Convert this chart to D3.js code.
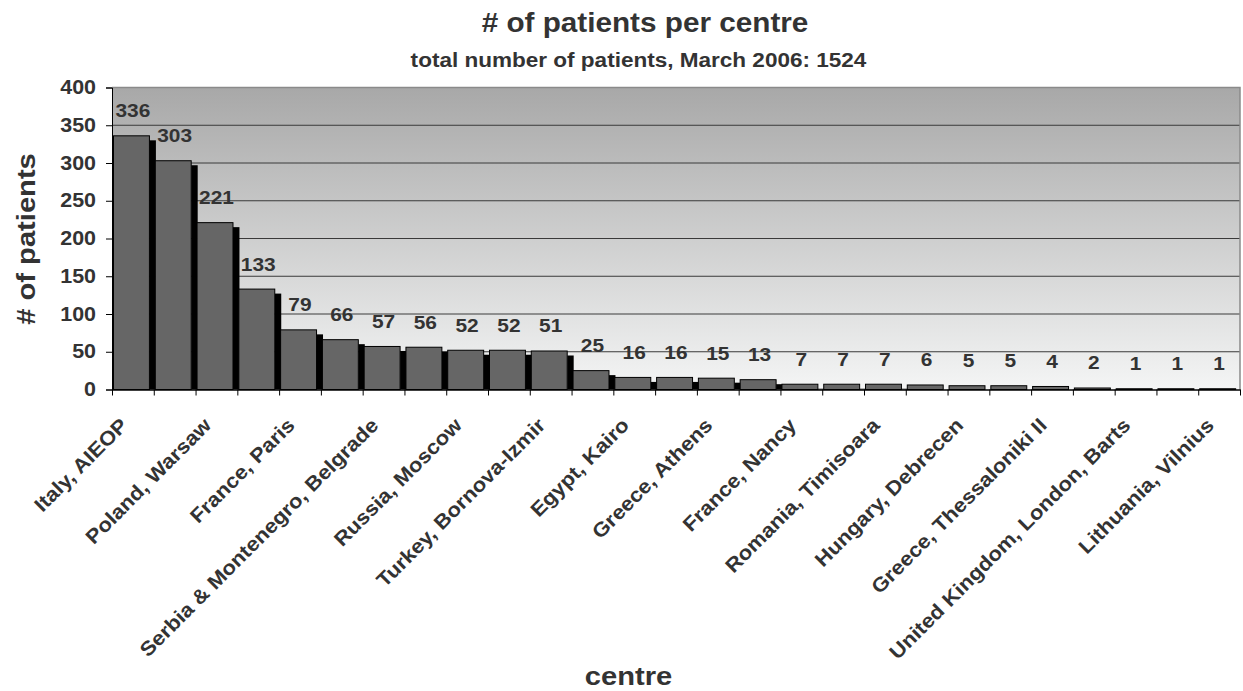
<!DOCTYPE html>
<html>
<head>
<meta charset="utf-8">
<script src="https://cdn.jsdelivr.net/npm/d3@7"></script>
<style>
	body { margin: 0; background: #fff; }
	svg { display: block; font-family: "Liberation Sans", Arial, sans-serif; font-weight: bold; }
</style>
</head>
<body>
<svg id="chart" width="1243" height="691"></svg>
<script>
// every other centre carries a label in the picture, the rest are unlabelled
const centres = [
	'Italy, AIEOP', '', 'Poland, Warsaw', '', 'France, Paris', '',
	'Serbia & Montenegro, Belgrade', '', 'Russia, Moscow', '',
	'Turkey, Bornova-Izmir', '', 'Egypt, Kairo', '', 'Greece, Athens', '',
	'France, Nancy', '', 'Romania, Timisoara', '', 'Hungary, Debrecen', '',
	'Greece, Thessaloniki II', '', 'United Kingdom, London, Barts', '',
	'Lithuania, Vilnius'
];
const patients = [336, 303, 221, 133, 79, 66, 57, 56, 52, 52, 51, 25, 16, 16, 15, 13, 7, 7, 7, 6, 5, 5, 4, 2, 1, 1, 1];
const yTicks = [0, 50, 100, 150, 200, 250, 300, 350, 400];

const titleText = '# of patients per centre';
const subtitleText = 'total number of patients, March 2006: 1524';
const xTitle = 'centre';
const yTitle = '# of patients';

let margin = { top: 87.5, left: 112 };
let width = 1128, height = 302;
let stretch = 1.1; // the original font is wider than Arial
let ink = '#333';

const svg = d3.select('#chart');

// background gradient of the plot area
const grad = svg.append('defs').append('linearGradient')
	.attr('id', 'bg').attr('x1', 0).attr('y1', 0).attr('x2', 0).attr('y2', 1);
grad.append('stop').attr('offset', '0%').attr('stop-color', '#a8a8a8');
grad.append('stop').attr('offset', '100%').attr('stop-color', '#f4f5f5');

const chartWrapper = svg.append('g')
	.attr('transform', 'translate(' + margin.left + ',' + margin.top + ')');

const x = d3.scaleBand().domain(d3.range(patients.length)).range([0, width]);
const xEdge = d3.scaleLinear().domain([0, patients.length]).range([0, width]);
const y = d3.scaleLinear().domain([0, 400]).range([height, 0]);

chartWrapper.append('rect')
	.attr('width', width).attr('height', height)
	.attr('fill', 'url(#bg)');

// grid lines
chartWrapper.selectAll('.grid-line')
	.data(yTicks.filter(d => d > 0 && d < 400))
	.enter().append('line')
	.classed('grid-line', true)
	.attr('x1', 0).attr('x2', width)
	.attr('y1', d => y(d)).attr('y2', d => y(d))
	.attr('stroke', '#3a3a3a').attr('stroke-width', 1);

// plot border top and right
chartWrapper.append('path')
	.attr('d', 'M0,' + y(400) + 'H' + width + 'V' + height)
	.attr('fill', 'none').attr('stroke', '#8a8a8a').attr('stroke-width', 1.5);

// bars: black shadow side, then the face
const bw = x.bandwidth();
const faceW = bw * 0.86, sideW = bw * 0.155, sideDrop = 4.5;

chartWrapper.selectAll('.side')
	.data(patients)
	.enter().append('rect')
	.attr('class', 'side')
	.attr('x', (d, i) => x(i) + 1.5 + faceW)
	.attr('y', d => Math.min(y(d) + sideDrop, height))
	.attr('width', sideW)
	.attr('height', d => Math.max(height - y(d) - sideDrop, 0))
	.attr('fill', '#000');

chartWrapper.selectAll('.bar')
	.data(patients)
	.enter().append('rect')
	.attr('class', 'bar')
	.attr('x', (d, i) => x(i) + 1.5)
	.attr('y', d => y(d))
	.attr('width', faceW)
	.attr('height', d => height - y(d))
	.attr('fill', '#666')
	.attr('stroke', '#000')
	.attr('stroke-width', 1);

// value labels
chartWrapper.selectAll('.value')
	.data(patients)
	.enter().append('text')
	.attr('class', 'value')
	.attr('text-anchor', 'middle')
	.attr('font-size', 19)
	.attr('fill', ink)
	.attr('transform', (d, i) => 'translate(' + (x(i) + bw / 2) + ',' + (y(d) - 18.5) + ') scale(' + stretch + ',1)')
	.text(d => d);

// y axis
const yAxis = chartWrapper.append('g')
	.call(d3.axisLeft(y).tickValues(yTicks).tickSize(6).tickPadding(10));
yAxis.select('.domain').attr('stroke', '#000');
yAxis.selectAll('line').attr('stroke', '#000');
yAxis.selectAll('text')
	.attr('font-size', 19.5)
	.attr('fill', ink)
	.attr('x', -16 / stretch)
	.attr('transform', 'scale(' + stretch + ',1)');
yAxis.attr('font-family', null).attr('font-size', null);

// x axis: ticks between the bars
const xEdgeAxis = chartWrapper.append('g')
	.attr('transform', 'translate(0,' + height + ')')
	.call(d3.axisBottom(xEdge).tickValues(d3.range(patients.length + 1)).tickSize(6).tickSizeOuter(0).tickFormat(''));
xEdgeAxis.select('.domain').attr('stroke', '#000').attr('stroke-width', 1.5);
xEdgeAxis.selectAll('line').attr('stroke', '#000');

// x axis: rotated centre labels
const xAxis = chartWrapper.append('g')
	.attr('transform', 'translate(0,' + height + ')')
	.call(d3.axisBottom(x)
		.tickValues(d3.range(patients.length).filter(i => centres[i]))
		.tickSize(0)
		.tickFormat(i => centres[i]));
xAxis.select('.domain').remove();
xAxis.attr('font-family', null).attr('font-size', null);
xAxis.selectAll('text')
	.attr('font-size', 20)
	.attr('fill', ink)
	.attr('y', 0).attr('dy', 0)
	.attr('text-anchor', 'end')
	.attr('transform', 'translate(-4,37) rotate(-45) scale(' + stretch + ',1)');

// titles
function label(txt, cx, cy, size, rot) {
	svg.append('text')
		.attr('text-anchor', 'middle')
		.attr('font-size', size)
		.attr('fill', ink)
		.attr('transform', 'translate(' + cx + ',' + cy + ') rotate(' + (rot || 0) + ') scale(' + stretch + ',1)')
		.text(txt);
}
label(titleText, 645, 31.5, 27);
label(subtitleText, 638.5, 66.5, 20.5);
label(xTitle, 628.5, 685, 26.5);
label(yTitle, 34.5, 239, 26.5, -90);
</script>
</body>
</html>
